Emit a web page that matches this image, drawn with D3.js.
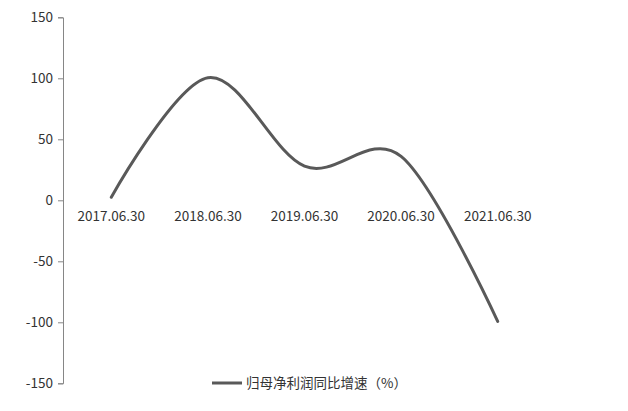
<!DOCTYPE html>
<html><head><meta charset="utf-8">
<script src="https://cdn.jsdelivr.net/npm/d3@7"></script>
<style>body{margin:0;background:#fff}svg{display:block}</style>
</head><body>
<svg id="c" width="628" height="411"></svg>
<script>
const categories = ["2017.06.30","2018.06.30","2019.06.30","2020.06.30","2021.06.30"];
const values = [2.5, 100.5, 28, 36, -99.3];
const yTicks = [-150,-100,-50,0,50,100,150];
const seriesName = "归母净利润同比增速（%）";

const svg = d3.select("#c");
const font = "'Microsoft YaHei','Noto Sans CJK SC','DejaVu Sans',sans-serif";
const x = d3.scaleBand().domain(categories).range([63, 546]);
const y = d3.scaleLinear().domain([-150,150]).range([383.3, 17.3]);

const yAxis = svg.append("g").attr("transform","translate(63,0)")
  .call(d3.axisLeft(y).tickValues(yTicks).tickSize(5).tickPadding(5).tickFormat(d => String(d)));
yAxis.select(".domain").attr("stroke","#868686").attr("stroke-width",1);
yAxis.selectAll(".tick line").attr("stroke","#868686");
yAxis.selectAll("text").attr("fill","#333").style("font-size","13.5px").style("font-family",font);

const xg = svg.append("g");
xg.selectAll("text").data(categories).enter().append("text")
  .attr("x", d => x(d) + x.bandwidth()/2).attr("y", 221)
  .attr("text-anchor","middle").attr("fill","#333")
  .style("font-size","13.5px").style("font-family",font).text(d => d);

const line = d3.line().x((d,i) => x(categories[i]) + x.bandwidth()/2).y(d => y(d))
  .curve(d3.curveCardinal.tension(0));
svg.append("path").datum(values).attr("d", line).attr("fill","none")
  .attr("stroke","#595959").attr("stroke-width",3).attr("stroke-linecap","round");

const lg = svg.append("g");
lg.append("line").attr("x1",212).attr("x2",242).attr("y1",383).attr("y2",383)
  .attr("stroke","#595959").attr("stroke-width",3);
lg.append("text").attr("x",246).attr("y",388).attr("fill","#333")
  .style("font-size","13.5px").style("font-family",font).text(seriesName);
</script>
</body></html>
